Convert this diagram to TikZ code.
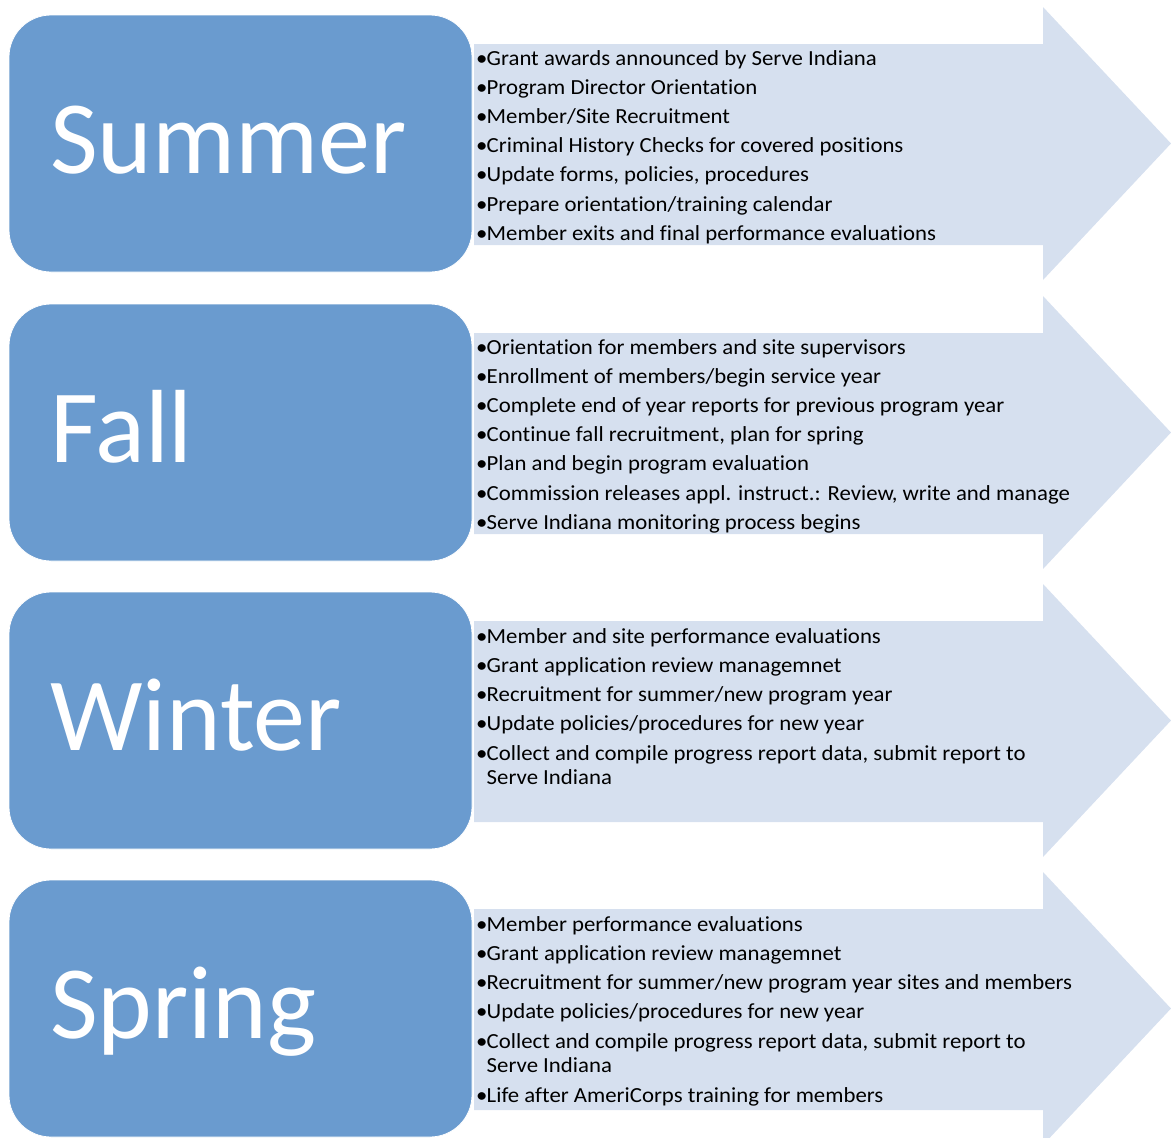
\documentclass[tikz,border=0pt]{standalone}
\usepackage{fontspec}
\setmainfont{Carlito}
\newfontfamily\itemfont[FakeStretch=1.06,Ligatures=NoCommon]{Carlito}
\definecolor{boxblue}{HTML}{6A9BCF}
\definecolor{arrowblue}{HTML}{D6E0EF}
\tikzset{
  season/.style={fill=boxblue, draw=white, line width=0.8pt, rounded corners=42pt},
  seasonlabel/.style={anchor=base west, inner sep=0pt, text=white, font=\fontsize{104}{112}\selectfont},
  arrowshape/.style={fill=arrowblue, draw=none},
  item/.style={anchor=base west, inner sep=0pt, font=\itemfont\fontsize{21.5}{24}\selectfont},
}
\newcommand{\bul}{\makebox[10.5pt][l]{•}}
\begin{document}
\begin{tikzpicture}[x=1pt,y=-1pt]
\useasboundingbox (0,0) rectangle (1171,1138);
% rows: tops 15, 304, 592, 880
\foreach \T/\n in {15/a,304/b,592/c,880/d}{
  \path[arrowshape] (474,\T+29) -- (1043,\T+29) -- (1043,\T-8) -- (1171,\T+128.5)
     -- (1043,\T+265) -- (1043,\T+230) -- (474,\T+230) -- cycle;
  \path[season] (9,\T) rectangle (472,\T+257);
  \coordinate (box\n) at (9,\T);
}
\node[seasonlabel] (summer) at (50,173) {Summer};
\node[seasonlabel] (fall) at (50,462) {Fall};
\node[seasonlabel] (winter) at (50,750) {Winter};
\node[seasonlabel] (spring) at (50,1038) {Spring};
% Summer items
\node[item] (a1) at (476,65) {\bul Grant awards announced by Serve Indiana};
\node[item] (a2) at (476,94.2) {\bul Program Director Orientation};
\node[item] (a3) at (476,123.4) {\bul Member/Site Recruitment};
\node[item] (a4) at (476,152.6) {\bul Criminal History Checks for covered positions};
\node[item] (a5) at (476,181.8) {\bul Update forms, policies, procedures};
\node[item] (a6) at (476,211) {\bul Prepare orientation/training calendar};
\node[item] (a7) at (476,240.2) {\bul Member exits and final performance evaluations};
% Fall items
\node[item] (b1) at (476,354) {\bul Orientation for members and site supervisors};
\node[item] (b2) at (476,383.2) {\bul Enrollment of members/begin service year};
\node[item] (b3) at (476,412.4) {\bul Complete end of year reports for previous program year};
\node[item] (b4) at (476,441.6) {\bul Continue fall recruitment, plan for spring};
\node[item] (b5) at (476,470.8) {\bul Plan and begin program evaluation};
\node[item] (b6) at (476,500) {\bul Commission releases appl. instruct.: Review, write and manage};
\node[item] (b7) at (476,529.2) {\bul Serve Indiana monitoring process begins};
% Winter items
\node[item] (c1) at (476,643) {\bul Member and site performance evaluations};
\node[item] (c2) at (476,672.3) {\bul Grant application review managemnet};
\node[item] (c3) at (476,701.6) {\bul Recruitment for summer/new program year};
\node[item] (c4) at (476,730.9) {\bul Update policies/procedures for new year};
\node[item] (c5) at (476,760.2) {\bul Collect and compile progress report data, submit report to};
\node[item] (c5b) at (486.5,784) {Serve Indiana};
% Spring items
\node[item] (d1) at (476,931) {\bul Member performance evaluations};
\node[item] (d2) at (476,960.3) {\bul Grant application review managemnet};
\node[item] (d3) at (476,989.6) {\bul Recruitment for summer/new program year sites and members};
\node[item] (d4) at (476,1018.9) {\bul Update policies/procedures for new year};
\node[item] (d5) at (476,1048.2) {\bul Collect and compile progress report data, submit report to};
\node[item] (d5b) at (486.5,1072) {Serve Indiana};
\node[item] (d6) at (476,1102) {\bul Life after AmeriCorps training for members};
\end{tikzpicture}
\end{document}
